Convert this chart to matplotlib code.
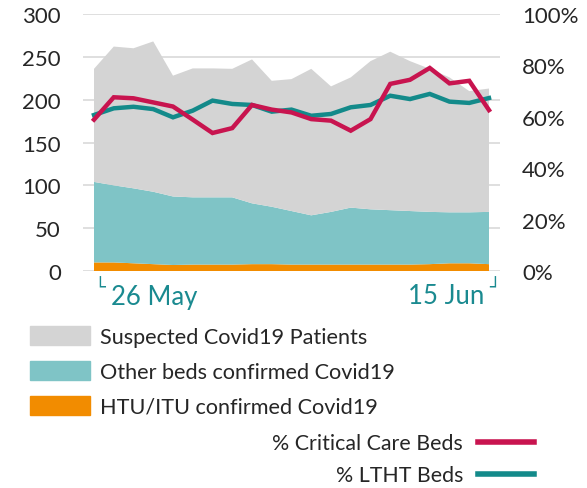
import matplotlib
matplotlib.use("Agg")
import matplotlib.pyplot as plt
from matplotlib.patches import Patch
from matplotlib.lines import Line2D
import numpy as np

plt.rcParams['font.family'] = ['Lato', 'DejaVu Sans']

days = list(range(21))  # 26 May .. 15 Jun
start_label = "26 May"
end_label = "15 Jun"

htu_itu = [10, 10, 9, 8, 7, 7.5, 7.5, 7.5, 8, 8, 7.5, 7.5, 7.5, 7.5, 7.5, 7.5, 7.5, 8, 9, 9, 8]
other_beds = [94, 90, 87.5, 84.5, 80, 78.5, 78.5, 78.5, 71, 67, 62.5, 57.5, 61.5, 66.5, 64.5, 63.5, 62.5, 61, 59.5, 59.5, 61]
suspected = [132, 162, 163.5, 175.5, 141, 150.5, 150.5, 150, 168, 147, 154, 171, 146.5, 152, 173, 185, 175, 167, 157.5, 141.5, 144]

pct_critical = [58.9, 67.6, 67.2, 65.6, 64, 58.9, 53.7, 55.6, 64.6, 62.8, 61.7, 59.1, 58.5, 54.6, 59.1, 72.8, 74.4, 79, 73, 74, 62.6]
pct_ltht = [60.7, 63.3, 63.9, 63, 59.8, 62.4, 66.3, 65, 64.6, 62, 62.8, 60.4, 61.1, 63.7, 64.6, 68.2, 66.9, 68.9, 65.9, 65.4, 67.3]

left_ticks = [0, 50, 100, 150, 200, 250, 300]
right_ticks = [0, 20, 40, 60, 80, 100]

c_grey = '#d4d4d4'
c_tealarea = '#7fc4c6'
c_orange = '#f28c00'
c_red = '#c8144f'
c_tealline = '#138a8a'
c_label = '#1a8a90'
c_text = '#262626'

W, H = 587, 489
fig = plt.figure(figsize=(W / 100, H / 100), dpi=100)
ax = fig.add_axes([83 / W, 1 - 272 / H, (500 - 83) / W, (272 - 15) / H])

ax.stackplot(days, htu_itu, other_beds, suspected,
             colors=[c_orange, c_tealarea, c_grey], zorder=2)
ax.set_ylim(0, 300)
ax.set_xlim(-0.557, 20.557)
ax.set_yticks(left_ticks)
ax.set_yticklabels([str(t) for t in left_ticks])
ax.set_xticks([])
ax.grid(axis='y', color='#d9d9d9', linewidth=1.2, zorder=0)
ax.set_axisbelow(True)
for s in ax.spines.values():
    s.set_visible(False)
ax.tick_params(axis='y', length=0, pad=16, labelsize=16, labelcolor=c_text)

ax2 = ax.twinx()
ax2.set_ylim(0, 100)
ax2.plot(days, pct_critical, color=c_red, linewidth=3.2, solid_joinstyle='miter', zorder=4)
ax2.plot(days, pct_ltht, color=c_tealline, linewidth=3.2, solid_joinstyle='miter', zorder=3)
ax2.set_yticks(right_ticks)
ax2.set_yticklabels([f"{t}%" for t in right_ticks])
for s in ax2.spines.values():
    s.set_visible(False)
ax2.tick_params(axis='y', length=0, pad=16, labelsize=16, labelcolor=c_text)

# date labels
fig.text(94 / W, 1 - 289 / H, "\u2514", fontsize=13, color=c_label, va='center', ha='left',
         family=['DejaVu Sans'])
fig.text(111 / W, 1 - 297 / H, start_label, fontsize=18.5, color=c_label, va='center', ha='left')
fig.text(484 / W, 1 - 297 / H, end_label, fontsize=18.5, color=c_label, va='center', ha='right')
fig.text(489 / W, 1 - 289 / H, "\u2518", fontsize=13, color=c_label, va='center', ha='left',
         family=['DejaVu Sans'])

# area legend
area_handles = [Patch(color=c_grey), Patch(color=c_tealarea), Patch(color=c_orange)]
area_labels = ["Suspected Covid19 Patients", "Other beds confirmed Covid19", "HTU/ITU confirmed Covid19"]
fs1 = 15.6
leg1 = fig.legend(area_handles, area_labels, loc='upper left',
                  bbox_to_anchor=(30 / W, 1 - 327 / H), frameon=False, fontsize=fs1,
                  handlelength=2.77, handleheight=0.97, handletextpad=0.46,
                  labelspacing=0.65, borderpad=0, borderaxespad=0, labelcolor=c_text)

line_handles = [Line2D([], [], color=c_red, linewidth=4), Line2D([], [], color=c_tealline, linewidth=4)]
line_labels = ["% Critical Care Beds", "% LTHT Beds"]
leg2 = fig.legend(line_handles, line_labels, loc='upper right',
                  bbox_to_anchor=(534 / W, 1 - 434 / H), frameon=False, fontsize=15.4,
                  handlelength=2.6, handletextpad=0.72, markerfirst=False,
                  labelspacing=0.58, borderpad=0, borderaxespad=0, labelcolor=c_text)
leg2._legend_box.align = 'right'

fig.savefig("out.png", dpi=100)
